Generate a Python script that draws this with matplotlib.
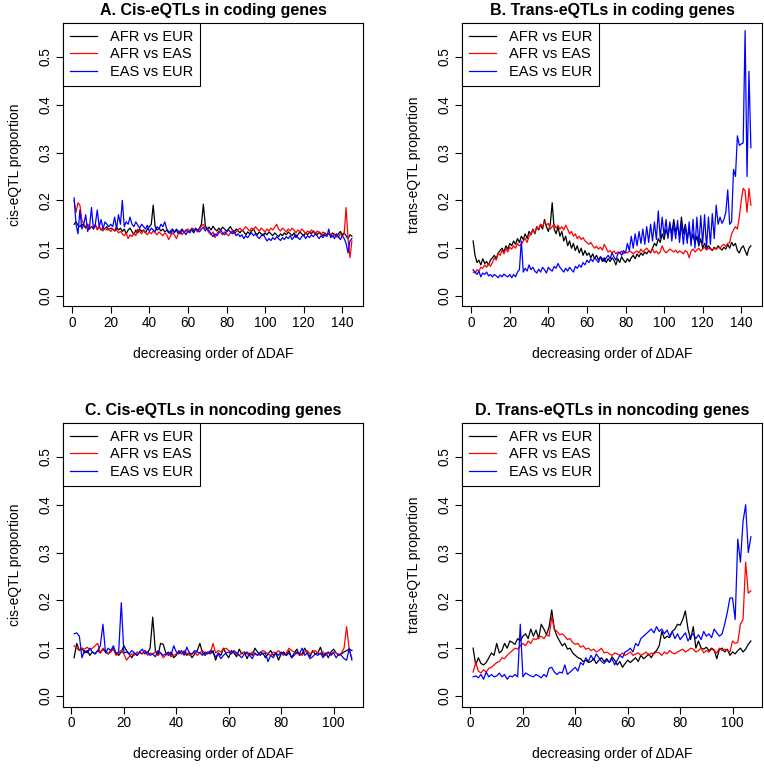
import matplotlib

matplotlib.use("Agg")

import matplotlib.pyplot as plt
import numpy as np

plt.rcParams["font.family"] = ["Liberation Sans", "DejaVu Sans"]

SERIES_NAMES = ["AFR vs EUR", "AFR vs EAS", "EAS vs EUR"]
SERIES_COLORS = ["black", "red", "blue"]

# A. cis-eQTLs, coding genes (145 bins)
cis_coding_afr_eur = [
    0.150, 0.155, 0.148, 0.145, 0.150, 0.148, 0.142, 0.150, 0.140, 0.145,
    0.142, 0.148, 0.140, 0.145, 0.138, 0.142, 0.140, 0.145, 0.138, 0.142,
    0.140, 0.136, 0.144, 0.138, 0.142, 0.135, 0.140, 0.130, 0.138, 0.142,
    0.135, 0.128, 0.138, 0.132, 0.140, 0.135, 0.138, 0.132, 0.140, 0.145,
    0.150, 0.190, 0.145, 0.138, 0.142, 0.136, 0.140, 0.134, 0.138, 0.132,
    0.136, 0.140, 0.134, 0.138, 0.130, 0.136, 0.140, 0.132, 0.138, 0.134,
    0.136, 0.138, 0.132, 0.140, 0.136, 0.142, 0.150, 0.192, 0.148, 0.140,
    0.144, 0.138, 0.146, 0.140, 0.136, 0.142, 0.138, 0.144, 0.140, 0.135,
    0.140, 0.145, 0.138, 0.134, 0.140, 0.136, 0.132, 0.138, 0.134, 0.128,
    0.134, 0.130, 0.136, 0.140, 0.132, 0.128, 0.134, 0.130, 0.126, 0.132,
    0.128, 0.134, 0.130, 0.126, 0.132, 0.128, 0.124, 0.130, 0.126, 0.132,
    0.128, 0.134, 0.130, 0.126, 0.132, 0.122, 0.128, 0.134, 0.130, 0.126,
    0.132, 0.128, 0.134, 0.130, 0.136, 0.132, 0.128, 0.134, 0.130, 0.126,
    0.132, 0.128, 0.130, 0.126, 0.132, 0.128, 0.124, 0.130, 0.135, 0.128,
    0.132, 0.126, 0.120, 0.128, 0.125,
]
cis_coding_afr_eas = [
    0.200, 0.175, 0.195, 0.190, 0.160, 0.150, 0.145, 0.150, 0.140, 0.145,
    0.140, 0.150, 0.138, 0.145, 0.140, 0.136, 0.142, 0.138, 0.140, 0.135,
    0.140, 0.136, 0.138, 0.132, 0.135, 0.130, 0.126, 0.132, 0.120, 0.128,
    0.124, 0.132, 0.126, 0.140, 0.135, 0.130, 0.138, 0.132, 0.128, 0.134,
    0.130, 0.136, 0.132, 0.128, 0.134, 0.130, 0.126, 0.132, 0.128, 0.118,
    0.126, 0.132, 0.128, 0.120, 0.130, 0.136, 0.128, 0.134, 0.138, 0.140,
    0.136, 0.142, 0.140, 0.138, 0.134, 0.140, 0.146, 0.150, 0.142, 0.138,
    0.132, 0.128, 0.134, 0.122, 0.130, 0.136, 0.132, 0.128, 0.134, 0.130,
    0.126, 0.132, 0.136, 0.130, 0.134, 0.138, 0.142, 0.136, 0.140, 0.145,
    0.140, 0.136, 0.142, 0.138, 0.145, 0.140, 0.136, 0.142, 0.138, 0.134,
    0.140, 0.136, 0.142, 0.138, 0.144, 0.150, 0.140, 0.136, 0.142, 0.138,
    0.134, 0.140, 0.136, 0.142, 0.138, 0.132, 0.138, 0.134, 0.140, 0.136,
    0.130, 0.136, 0.132, 0.138, 0.134, 0.130, 0.136, 0.132, 0.128, 0.134,
    0.130, 0.126, 0.132, 0.128, 0.124, 0.130, 0.126, 0.122, 0.130, 0.125,
    0.130, 0.185, 0.120, 0.080, 0.115,
]
cis_coding_eas_eur = [
    0.205, 0.150, 0.130, 0.180, 0.140, 0.150, 0.170, 0.135, 0.145, 0.185,
    0.140, 0.150, 0.180, 0.145, 0.160, 0.140, 0.155, 0.150, 0.145, 0.150,
    0.145, 0.165, 0.140, 0.170, 0.150, 0.200, 0.145, 0.155, 0.150, 0.165,
    0.150, 0.145, 0.155, 0.148, 0.142, 0.150, 0.145, 0.140, 0.148, 0.135,
    0.142, 0.138, 0.135, 0.145, 0.140, 0.150, 0.145, 0.155, 0.140, 0.135,
    0.130, 0.138, 0.132, 0.140, 0.136, 0.130, 0.138, 0.134, 0.128, 0.136,
    0.132, 0.140, 0.136, 0.142, 0.138, 0.134, 0.140, 0.144, 0.136, 0.142,
    0.136, 0.130, 0.124, 0.130, 0.126, 0.132, 0.138, 0.132, 0.128, 0.134,
    0.138, 0.134, 0.130, 0.136, 0.126, 0.130, 0.124, 0.128, 0.120, 0.126,
    0.122, 0.128, 0.132, 0.126, 0.130, 0.124, 0.120, 0.126, 0.130, 0.122,
    0.115, 0.120, 0.116, 0.122, 0.118, 0.124, 0.120, 0.116, 0.122, 0.118,
    0.124, 0.120, 0.126, 0.118, 0.124, 0.128, 0.122, 0.118, 0.124, 0.128,
    0.120, 0.126, 0.122, 0.128, 0.124, 0.130, 0.126, 0.120, 0.126, 0.122,
    0.128, 0.124, 0.140, 0.122, 0.126, 0.120, 0.130, 0.124, 0.118, 0.126,
    0.120, 0.110, 0.090, 0.115, 0.120,
]

# B. trans-eQTLs, coding genes (145 bins)
trans_coding_afr_eur = [
    0.115, 0.085, 0.070, 0.075, 0.065, 0.078, 0.068, 0.072, 0.065, 0.075,
    0.080, 0.085, 0.078, 0.090, 0.095, 0.100, 0.092, 0.105, 0.098, 0.110,
    0.105, 0.115, 0.108, 0.120, 0.112, 0.125, 0.118, 0.130, 0.120, 0.135,
    0.128, 0.140, 0.130, 0.145, 0.138, 0.150, 0.140, 0.160, 0.145, 0.135,
    0.150, 0.195, 0.140, 0.130, 0.145, 0.125, 0.135, 0.115, 0.125, 0.105,
    0.115, 0.100, 0.110, 0.095, 0.105, 0.090, 0.100, 0.085, 0.095, 0.085,
    0.090, 0.080, 0.088, 0.078, 0.085, 0.075, 0.082, 0.072, 0.080, 0.070,
    0.078, 0.072, 0.080, 0.075, 0.065, 0.078, 0.070, 0.082, 0.075, 0.070,
    0.078, 0.072, 0.080, 0.085, 0.078, 0.088, 0.082, 0.090, 0.085, 0.092,
    0.088, 0.095, 0.090, 0.100, 0.110, 0.105, 0.120, 0.112, 0.130, 0.118,
    0.140, 0.125, 0.150, 0.130, 0.160, 0.135, 0.145, 0.125, 0.165, 0.130,
    0.150, 0.120, 0.140, 0.115, 0.130, 0.110, 0.125, 0.105, 0.120, 0.100,
    0.110, 0.098, 0.105, 0.100, 0.095, 0.102, 0.098, 0.105, 0.100, 0.096,
    0.102, 0.098, 0.108, 0.100, 0.112, 0.105, 0.110, 0.095, 0.090, 0.100,
    0.105, 0.095, 0.085, 0.100, 0.105,
]
trans_coding_afr_eas = [
    0.050, 0.048, 0.055, 0.052, 0.060, 0.058, 0.065, 0.060, 0.068, 0.062,
    0.070, 0.080, 0.075, 0.090, 0.085, 0.095, 0.088, 0.100, 0.092, 0.102,
    0.098, 0.105, 0.100, 0.110, 0.105, 0.108, 0.115, 0.120, 0.112, 0.125,
    0.130, 0.138, 0.132, 0.145, 0.140, 0.150, 0.145, 0.155, 0.148, 0.152,
    0.140, 0.145, 0.150, 0.142, 0.148, 0.140, 0.145, 0.138, 0.148, 0.140,
    0.130, 0.135, 0.125, 0.130, 0.120, 0.125, 0.118, 0.122, 0.115, 0.112,
    0.108, 0.112, 0.105, 0.100, 0.104, 0.098, 0.102, 0.096, 0.108, 0.100,
    0.092, 0.095, 0.090, 0.094, 0.088, 0.092, 0.090, 0.094, 0.088, 0.092,
    0.090, 0.094, 0.092, 0.088, 0.092, 0.094, 0.090, 0.098, 0.092, 0.096,
    0.100, 0.095, 0.092, 0.098, 0.090, 0.094, 0.088, 0.092, 0.105, 0.095,
    0.090, 0.094, 0.098, 0.095, 0.092, 0.096, 0.090, 0.094, 0.092, 0.088,
    0.095, 0.092, 0.080, 0.094, 0.098, 0.092, 0.096, 0.100, 0.094, 0.098,
    0.102, 0.096, 0.100, 0.098, 0.095, 0.100, 0.098, 0.102, 0.100, 0.105,
    0.108, 0.104, 0.110, 0.112, 0.130, 0.138, 0.145, 0.140, 0.165, 0.200,
    0.225, 0.220, 0.175, 0.225, 0.190,
]
trans_coding_eas_eur = [
    0.055, 0.050, 0.045, 0.052, 0.040, 0.048, 0.045, 0.050, 0.042, 0.045,
    0.040, 0.045, 0.042, 0.038, 0.044, 0.040, 0.046, 0.042, 0.040, 0.045,
    0.038, 0.045, 0.040, 0.050, 0.055, 0.115, 0.050, 0.058, 0.052, 0.065,
    0.055, 0.060, 0.052, 0.048, 0.056, 0.050, 0.060, 0.055, 0.048, 0.060,
    0.055, 0.052, 0.062, 0.058, 0.068, 0.060, 0.055, 0.050, 0.058, 0.052,
    0.060, 0.055, 0.050, 0.062, 0.058, 0.065, 0.060, 0.070, 0.065, 0.075,
    0.070, 0.078, 0.072, 0.080, 0.075, 0.070, 0.082, 0.078, 0.072, 0.080,
    0.085, 0.078, 0.090, 0.082, 0.075, 0.088, 0.092, 0.085, 0.095, 0.090,
    0.110, 0.095, 0.125, 0.100, 0.130, 0.105, 0.135, 0.110, 0.140, 0.108,
    0.145, 0.112, 0.150, 0.115, 0.155, 0.118, 0.178, 0.120, 0.165, 0.125,
    0.160, 0.120, 0.155, 0.115, 0.150, 0.120, 0.158, 0.112, 0.152, 0.108,
    0.148, 0.110, 0.155, 0.105, 0.160, 0.100, 0.165, 0.105, 0.168, 0.110,
    0.170, 0.100, 0.165, 0.108, 0.172, 0.120, 0.190, 0.150, 0.165, 0.152,
    0.160, 0.175, 0.222, 0.150, 0.155, 0.265, 0.250, 0.335, 0.315, 0.318,
    0.320, 0.555, 0.250, 0.470, 0.310,
]

# C. cis-eQTLs, noncoding genes (107 bins)
cis_noncoding_afr_eur = [
    0.080, 0.110, 0.095, 0.100, 0.090, 0.095, 0.085, 0.092, 0.088, 0.095,
    0.090, 0.098, 0.092, 0.088, 0.095, 0.100, 0.090, 0.085, 0.092, 0.105,
    0.095, 0.088, 0.080, 0.090, 0.085, 0.092, 0.088, 0.095, 0.090, 0.100,
    0.165, 0.095, 0.085, 0.110, 0.108, 0.090, 0.085, 0.092, 0.080, 0.085,
    0.095, 0.088, 0.092, 0.085, 0.090, 0.080, 0.088, 0.095, 0.110, 0.090,
    0.085, 0.092, 0.088, 0.095, 0.075, 0.090, 0.085, 0.100, 0.088, 0.080,
    0.095, 0.090, 0.082, 0.098, 0.088, 0.092, 0.078, 0.090, 0.085, 0.100,
    0.092, 0.085, 0.090, 0.080, 0.088, 0.095, 0.085, 0.090, 0.075, 0.088,
    0.092, 0.085, 0.095, 0.080, 0.090, 0.098, 0.085, 0.088, 0.100, 0.090,
    0.082, 0.095, 0.088, 0.090, 0.102, 0.085, 0.090, 0.080, 0.092, 0.098,
    0.090, 0.085, 0.088, 0.092, 0.095, 0.098, 0.095,
]
cis_noncoding_afr_eas = [
    0.105, 0.100, 0.095, 0.100, 0.098, 0.102, 0.096, 0.100, 0.105, 0.110,
    0.090, 0.100, 0.095, 0.088, 0.092, 0.098, 0.085, 0.090, 0.095, 0.088,
    0.075, 0.082, 0.088, 0.085, 0.092, 0.090, 0.088, 0.095, 0.085, 0.090,
    0.088, 0.092, 0.085, 0.090, 0.080, 0.085, 0.090, 0.082, 0.085, 0.088,
    0.092, 0.088, 0.095, 0.090, 0.085, 0.088, 0.092, 0.085, 0.090, 0.095,
    0.088, 0.092, 0.090, 0.110, 0.090, 0.095, 0.092, 0.098, 0.100, 0.095,
    0.090, 0.092, 0.088, 0.085, 0.090, 0.092, 0.088, 0.085, 0.092, 0.088,
    0.085, 0.090, 0.095, 0.092, 0.088, 0.085, 0.092, 0.090, 0.095, 0.088,
    0.085, 0.090, 0.100, 0.095, 0.092, 0.088, 0.090, 0.085, 0.092, 0.095,
    0.088, 0.092, 0.095, 0.090, 0.088, 0.092, 0.085, 0.090, 0.088, 0.092,
    0.090, 0.085, 0.090, 0.100, 0.145, 0.095, 0.080,
]
cis_noncoding_eas_eur = [
    0.130, 0.132, 0.125, 0.080, 0.095, 0.090, 0.100, 0.092, 0.088, 0.095,
    0.105, 0.150, 0.090, 0.100, 0.095, 0.105, 0.088, 0.092, 0.195, 0.090,
    0.092, 0.088, 0.095, 0.090, 0.085, 0.092, 0.098, 0.088, 0.092, 0.085,
    0.088, 0.082, 0.095, 0.090, 0.085, 0.088, 0.092, 0.085, 0.105, 0.092,
    0.088, 0.095, 0.085, 0.102, 0.090, 0.088, 0.095, 0.092, 0.090, 0.085,
    0.092, 0.088, 0.095, 0.090, 0.082, 0.088, 0.078, 0.085, 0.090, 0.092,
    0.088, 0.095, 0.090, 0.085, 0.080, 0.088, 0.092, 0.085, 0.078, 0.090,
    0.085, 0.092, 0.088, 0.090, 0.072, 0.085, 0.080, 0.090, 0.085, 0.092,
    0.088, 0.085, 0.090, 0.080, 0.085, 0.092, 0.088, 0.100, 0.085, 0.090,
    0.078, 0.082, 0.088, 0.085, 0.090, 0.080, 0.088, 0.092, 0.085, 0.090,
    0.080, 0.088, 0.085, 0.078, 0.075, 0.100, 0.075,
]

# D. trans-eQTLs, noncoding genes (107 bins)
trans_noncoding_afr_eur = [
    0.100, 0.065, 0.080, 0.068, 0.065, 0.070, 0.080, 0.090, 0.085, 0.110,
    0.090, 0.095, 0.110, 0.100, 0.115, 0.112, 0.108, 0.120, 0.115, 0.125,
    0.130, 0.120, 0.140, 0.125, 0.138, 0.120, 0.150, 0.140, 0.128, 0.145,
    0.180, 0.140, 0.125, 0.115, 0.105, 0.110, 0.098, 0.100, 0.090, 0.085,
    0.080, 0.078, 0.072, 0.075, 0.070, 0.072, 0.078, 0.068, 0.075, 0.080,
    0.072, 0.078, 0.070, 0.082, 0.075, 0.065, 0.072, 0.060, 0.068, 0.075,
    0.070, 0.075, 0.080, 0.072, 0.085, 0.078, 0.082, 0.088, 0.080, 0.090,
    0.095, 0.105, 0.135, 0.120, 0.125, 0.122, 0.135, 0.140, 0.150, 0.148,
    0.160, 0.178, 0.140, 0.118, 0.145, 0.100, 0.115, 0.100, 0.098, 0.102,
    0.095, 0.100, 0.096, 0.078, 0.098, 0.100, 0.092, 0.098, 0.085, 0.092,
    0.088, 0.095, 0.100, 0.092, 0.098, 0.108, 0.115,
]
trans_noncoding_afr_eas = [
    0.050, 0.070, 0.052, 0.048, 0.055, 0.050, 0.058, 0.060, 0.065, 0.070,
    0.072, 0.080, 0.078, 0.085, 0.090, 0.095, 0.100, 0.098, 0.105, 0.110,
    0.105, 0.115, 0.110, 0.120, 0.118, 0.122, 0.125, 0.120, 0.128, 0.125,
    0.165, 0.140, 0.135, 0.128, 0.130, 0.125, 0.118, 0.120, 0.112, 0.108,
    0.110, 0.102, 0.105, 0.098, 0.100, 0.095, 0.098, 0.092, 0.095, 0.100,
    0.090, 0.092, 0.088, 0.085, 0.090, 0.088, 0.085, 0.090, 0.085, 0.088,
    0.092, 0.085, 0.088, 0.090, 0.085, 0.088, 0.092, 0.085, 0.090, 0.088,
    0.092, 0.090, 0.085, 0.092, 0.088, 0.095, 0.090, 0.088, 0.092, 0.095,
    0.098, 0.092, 0.095, 0.100, 0.098, 0.092, 0.095, 0.100, 0.090, 0.095,
    0.092, 0.098, 0.095, 0.090, 0.100, 0.095, 0.098, 0.095, 0.092, 0.115,
    0.110, 0.112, 0.150, 0.160, 0.280, 0.215, 0.220,
]
trans_noncoding_eas_eur = [
    0.040, 0.042, 0.038, 0.045, 0.035, 0.050, 0.040, 0.045, 0.040, 0.042,
    0.048, 0.040, 0.045, 0.035, 0.042, 0.040, 0.045, 0.040, 0.150, 0.040,
    0.048, 0.045, 0.042, 0.040, 0.045, 0.042, 0.038, 0.045, 0.040, 0.058,
    0.060, 0.050, 0.045, 0.050, 0.048, 0.065, 0.045, 0.050, 0.055, 0.060,
    0.052, 0.070, 0.065, 0.080, 0.072, 0.085, 0.075, 0.088, 0.080, 0.072,
    0.068, 0.075, 0.070, 0.078, 0.065, 0.075, 0.085, 0.080, 0.092, 0.095,
    0.100, 0.092, 0.110, 0.105, 0.120, 0.125, 0.130, 0.135, 0.140, 0.132,
    0.145, 0.135, 0.140, 0.130, 0.138, 0.125, 0.135, 0.120, 0.130, 0.118,
    0.125, 0.132, 0.115, 0.125, 0.130, 0.120, 0.128, 0.118, 0.135, 0.125,
    0.130, 0.122, 0.140, 0.132, 0.125, 0.130, 0.150, 0.175, 0.205, 0.205,
    0.160, 0.328, 0.280, 0.365, 0.400, 0.300, 0.333,
]

PANELS = [
    ("A. Cis-eQTLs in coding genes", "cis-eQTL proportion",
     [cis_coding_afr_eur, cis_coding_afr_eas, cis_coding_eas_eur], [0, 20, 40, 60, 80, 100, 120, 140]),
    ("B. Trans-eQTLs in coding genes", "trans-eQTL proportion",
     [trans_coding_afr_eur, trans_coding_afr_eas, trans_coding_eas_eur], [0, 20, 40, 60, 80, 100, 120, 140]),
    ("C. Cis-eQTLs in noncoding genes", "cis-eQTL proportion",
     [cis_noncoding_afr_eur, cis_noncoding_afr_eas, cis_noncoding_eas_eur], [0, 20, 40, 60, 80, 100]),
    ("D. Trans-eQTLs in noncoding genes", "trans-eQTL proportion",
     [trans_noncoding_afr_eur, trans_noncoding_afr_eas, trans_noncoding_eas_eur], [0, 20, 40, 60, 80, 100]),
]
Y_TICKS = [0.0, 0.1, 0.2, 0.3, 0.4, 0.5]

W, H = 764, 770
# axes boxes in pixels: left, top, width, height
BOXES = [(63, 22.5, 300, 284), (462, 22.5, 300, 284), (63, 422.5, 300, 284), (462, 422.5, 300, 284)]


def draw_panel(ax, title, ylabel, series, xticks):
    n = len(series[0])
    x = np.arange(1, n + 1)
    for values, name, color in zip(series, SERIES_NAMES, SERIES_COLORS):
        ax.plot(x, values, color=color, lw=0.9, label=name)
    pad = (n - 1) * 0.04
    ax.set_xlim(1 - pad, n + pad)
    ax.set_ylim(-0.022, 0.572)
    ax.set_xticks(xticks)
    ax.set_yticks(Y_TICKS)
    ax.set_yticklabels([f"{v:.1f}" for v in Y_TICKS])
    ax.tick_params(direction="out", length=5, width=0.8, labelsize=9.8)
    ax.tick_params(axis="x", pad=2)
    ax.tick_params(axis="y", labelrotation=90, pad=2.5)
    for lab in ax.get_yticklabels():
        lab.set_va("center")
    for spine in ax.spines.values():
        spine.set_linewidth(0.8)
    ax.set_title(title, fontsize=11.5, fontweight="bold", pad=5.5)
    ax.set_xlabel("decreasing order of \u0394DAF", fontsize=10, labelpad=12)
    ax.set_ylabel(ylabel, fontsize=10, labelpad=12)
    leg = ax.legend(loc="upper left", borderaxespad=0, fancybox=False, framealpha=1,
                    edgecolor="black", fontsize=10.5, handlelength=1.8, handletextpad=0.9,
                    labelspacing=0.25, borderpad=0.5)
    leg.get_frame().set_linewidth(0.8)


fig = plt.figure(figsize=(W / 100, H / 100), dpi=100)
for (title, ylabel, series, xticks), (left, top, width, height) in zip(PANELS, BOXES):
    ax = fig.add_axes([left / W, 1 - (top + height) / H, width / W, height / H])
    draw_panel(ax, title, ylabel, series, xticks)

fig.savefig("out.png", dpi=100)
